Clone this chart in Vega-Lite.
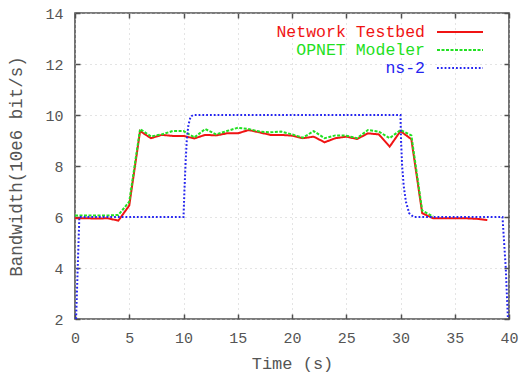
{
  "$schema": "https://vega.github.io/schema/vega-lite/v6.json",
  "width": 434,
  "height": 306,
  "autosize": "none",
  "padding": {"left": 75, "top": 13, "right": 15, "bottom": 54},
  "background": "white",
  "config": {
    "view": {"stroke": "#505050", "strokeWidth": 1.6},
    "font": "Liberation Mono"
  },
  "data": {
    "values": [
      {"t": 0, "v": 5.95, "s": "Network Testbed"},
      {"t": 1, "v": 5.95, "s": "Network Testbed"},
      {"t": 2, "v": 5.94, "s": "Network Testbed"},
      {"t": 3, "v": 5.95, "s": "Network Testbed"},
      {"t": 4, "v": 5.86, "s": "Network Testbed"},
      {"t": 5, "v": 6.45, "s": "Network Testbed"},
      {"t": 6, "v": 9.37, "s": "Network Testbed"},
      {"t": 7, "v": 9.09, "s": "Network Testbed"},
      {"t": 8, "v": 9.22, "s": "Network Testbed"},
      {"t": 9, "v": 9.18, "s": "Network Testbed"},
      {"t": 10, "v": 9.18, "s": "Network Testbed"},
      {"t": 11, "v": 9.08, "s": "Network Testbed"},
      {"t": 12, "v": 9.22, "s": "Network Testbed"},
      {"t": 13, "v": 9.2, "s": "Network Testbed"},
      {"t": 14, "v": 9.28, "s": "Network Testbed"},
      {"t": 15, "v": 9.28, "s": "Network Testbed"},
      {"t": 16, "v": 9.41, "s": "Network Testbed"},
      {"t": 17, "v": 9.32, "s": "Network Testbed"},
      {"t": 18, "v": 9.22, "s": "Network Testbed"},
      {"t": 19, "v": 9.22, "s": "Network Testbed"},
      {"t": 20, "v": 9.19, "s": "Network Testbed"},
      {"t": 21, "v": 9.09, "s": "Network Testbed"},
      {"t": 22, "v": 9.15, "s": "Network Testbed"},
      {"t": 23, "v": 8.93, "s": "Network Testbed"},
      {"t": 24, "v": 9.09, "s": "Network Testbed"},
      {"t": 25, "v": 9.15, "s": "Network Testbed"},
      {"t": 26, "v": 9.06, "s": "Network Testbed"},
      {"t": 27, "v": 9.28, "s": "Network Testbed"},
      {"t": 28, "v": 9.24, "s": "Network Testbed"},
      {"t": 29, "v": 8.76, "s": "Network Testbed"},
      {"t": 30, "v": 9.37, "s": "Network Testbed"},
      {"t": 31, "v": 9.05, "s": "Network Testbed"},
      {"t": 32, "v": 6.15, "s": "Network Testbed"},
      {"t": 33, "v": 5.95, "s": "Network Testbed"},
      {"t": 34, "v": 5.95, "s": "Network Testbed"},
      {"t": 35, "v": 5.95, "s": "Network Testbed"},
      {"t": 36, "v": 5.95, "s": "Network Testbed"},
      {"t": 37, "v": 5.93, "s": "Network Testbed"},
      {"t": 38, "v": 5.88, "s": "Network Testbed"},
      {"t": 0, "v": 6.06, "s": "OPNET Modeler"},
      {"t": 1, "v": 6.06, "s": "OPNET Modeler"},
      {"t": 2, "v": 6.06, "s": "OPNET Modeler"},
      {"t": 3, "v": 6.06, "s": "OPNET Modeler"},
      {"t": 4, "v": 6.08, "s": "OPNET Modeler"},
      {"t": 5, "v": 6.6, "s": "OPNET Modeler"},
      {"t": 6, "v": 9.45, "s": "OPNET Modeler"},
      {"t": 7, "v": 9.16, "s": "OPNET Modeler"},
      {"t": 8, "v": 9.24, "s": "OPNET Modeler"},
      {"t": 9, "v": 9.37, "s": "OPNET Modeler"},
      {"t": 10, "v": 9.37, "s": "OPNET Modeler"},
      {"t": 11, "v": 9.12, "s": "OPNET Modeler"},
      {"t": 12, "v": 9.45, "s": "OPNET Modeler"},
      {"t": 13, "v": 9.24, "s": "OPNET Modeler"},
      {"t": 14, "v": 9.37, "s": "OPNET Modeler"},
      {"t": 15, "v": 9.5, "s": "OPNET Modeler"},
      {"t": 16, "v": 9.45, "s": "OPNET Modeler"},
      {"t": 17, "v": 9.35, "s": "OPNET Modeler"},
      {"t": 18, "v": 9.32, "s": "OPNET Modeler"},
      {"t": 19, "v": 9.35, "s": "OPNET Modeler"},
      {"t": 20, "v": 9.24, "s": "OPNET Modeler"},
      {"t": 21, "v": 9.11, "s": "OPNET Modeler"},
      {"t": 22, "v": 9.37, "s": "OPNET Modeler"},
      {"t": 23, "v": 9.09, "s": "OPNET Modeler"},
      {"t": 24, "v": 9.2, "s": "OPNET Modeler"},
      {"t": 25, "v": 9.19, "s": "OPNET Modeler"},
      {"t": 26, "v": 9.09, "s": "OPNET Modeler"},
      {"t": 27, "v": 9.41, "s": "OPNET Modeler"},
      {"t": 28, "v": 9.35, "s": "OPNET Modeler"},
      {"t": 29, "v": 9.09, "s": "OPNET Modeler"},
      {"t": 30, "v": 9.41, "s": "OPNET Modeler"},
      {"t": 31, "v": 9.2, "s": "OPNET Modeler"},
      {"t": 32, "v": 6.25, "s": "OPNET Modeler"},
      {"t": 33, "v": 6.02, "s": "OPNET Modeler"},
      {"t": 0.1, "v": 2, "s": "ns-2"},
      {"t": 0.4, "v": 6, "s": "ns-2"},
      {"t": 10, "v": 6, "s": "ns-2"},
      {"t": 10.1, "v": 7.2, "s": "ns-2"},
      {"t": 10.2, "v": 8.2, "s": "ns-2"},
      {"t": 10.3, "v": 9.0, "s": "ns-2"},
      {"t": 10.45, "v": 9.6, "s": "ns-2"},
      {"t": 10.65, "v": 9.93, "s": "ns-2"},
      {"t": 10.9, "v": 10, "s": "ns-2"},
      {"t": 30, "v": 10, "s": "ns-2"},
      {"t": 30.05, "v": 9.0, "s": "ns-2"},
      {"t": 30.15, "v": 8.0, "s": "ns-2"},
      {"t": 30.3, "v": 7.2, "s": "ns-2"},
      {"t": 30.5, "v": 6.6, "s": "ns-2"},
      {"t": 30.8, "v": 6.15, "s": "ns-2"},
      {"t": 31.2, "v": 6.0, "s": "ns-2"},
      {"t": 39.4, "v": 6, "s": "ns-2"},
      {"t": 39.55, "v": 5, "s": "ns-2"},
      {"t": 39.7, "v": 4, "s": "ns-2"},
      {"t": 39.9, "v": 2, "s": "ns-2"}
    ]
  },
  "resolve": {"axis": {"x": "independent", "y": "independent"}},
  "layer": [
    {
      "mark": {"type": "line", "strokeWidth": 2, "clip": true},
      "encoding": {
        "x": {
          "field": "t", "type": "quantitative",
          "scale": {"domain": [0, 40], "nice": false, "zero": false},
          "axis": {
            "orient": "bottom", "title": "Time (s)", "values": [0, 5, 10, 15, 20, 25, 30, 35, 40],
            "domain": false, "tickSize": -5, "tickColor": "#505050", "tickWidth": 1.5,
            "labelPadding": 16, "labelDx": 5, "labelFont": "Liberation Mono", "labelFontSize": 15, "labelColor": "#555555",
            "labelFlush": false, "labelOverlap": false,
            "grid": true, "gridColor": "#c8c8c8", "gridDash": [1, 4], "gridWidth": 1,
            "titleFont": "Liberation Mono", "titleFontSize": 17, "titleFontWeight": "normal", "titleColor": "#555555",
            "titleBaseline": "middle", "titleY": 44
          }
        },
        "y": {
          "field": "v", "type": "quantitative",
          "scale": {"domain": [2, 14], "nice": false, "zero": false},
          "axis": {
            "orient": "left", "title": "Bandwidth(10e6 bit/s)", "values": [2, 4, 6, 8, 10, 12, 14],
            "domain": false, "tickSize": -5, "tickColor": "#505050", "tickWidth": 1.5,
            "labelPadding": 17, "labelDy": 2, "labelFont": "Liberation Mono", "labelFontSize": 15, "labelColor": "#555555",
            "labelFlush": false, "labelOverlap": false,
            "grid": true, "gridColor": "#c8c8c8", "gridDash": [1, 4], "gridWidth": 1,
            "titleFont": "Liberation Mono", "titleFontSize": 17.5, "titleFontWeight": "normal", "titleColor": "#555555",
            "titleBaseline": "middle", "titleX": -59
          }
        },
        "color": {
          "field": "s", "type": "nominal",
          "scale": {"domain": ["Network Testbed", "OPNET Modeler", "ns-2"], "range": ["#f01414", "#22e022", "#2424f0"]},
          "legend": {
            "orient": "none", "legendX": 361, "legendY": 10, "title": null, "padding": 0,
            "symbolType": "M-2.875,0H2.875", "symbolSize": 256, "symbolStrokeWidth": 2, "symbolOffset": 15,
            "labelAlign": "right", "labelOffset": -44, "labelFont": "Liberation Mono", "labelFontSize": 16.5,
            "labelLimit": 300, "rowPadding": -7,
            "encode": {"labels": {"update": {"fill": {"scale": "color", "field": "value"}}}}
          }
        },
        "strokeDash": {
          "field": "s", "type": "nominal",
          "scale": {"domain": ["Network Testbed", "OPNET Modeler", "ns-2"], "range": [[1, 0], [3, 1.5], [1.8, 2]]},
          "legend": {
            "orient": "none", "legendX": 361, "legendY": 10, "title": null, "padding": 0,
            "symbolType": "M-2.875,0H2.875", "symbolSize": 256, "symbolStrokeWidth": 2, "symbolOffset": 15,
            "labelAlign": "right", "labelOffset": -44, "labelFont": "Liberation Mono", "labelFontSize": 16.5,
            "labelLimit": 300, "rowPadding": -7,
            "encode": {"labels": {"update": {"fill": {"scale": "color", "field": "value"}}}}
          }
        }
      }
    },
    {
      "mark": {"type": "point", "opacity": 0},
      "encoding": {
        "x": {
          "field": "t", "type": "quantitative",
          "axis": {"orient": "top", "title": null, "labels": false, "domain": false, "grid": false,
                   "values": [0, 5, 10, 15, 20, 25, 30, 35, 40], "tickSize": -5, "tickColor": "#505050", "tickWidth": 1.5}
        },
        "y": {
          "field": "v", "type": "quantitative",
          "axis": {"orient": "right", "title": null, "labels": false, "domain": false, "grid": false,
                   "values": [2, 4, 6, 8, 10, 12, 14], "tickSize": -5, "tickColor": "#505050", "tickWidth": 1.5}
        }
      }
    }
  ]
}
